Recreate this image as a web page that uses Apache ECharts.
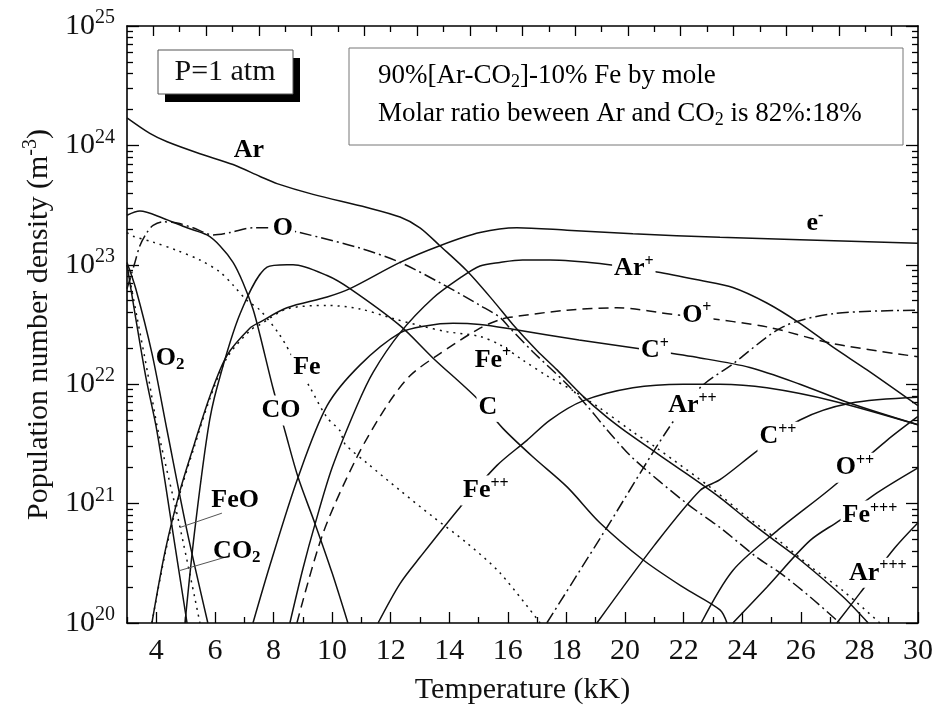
<!DOCTYPE html>
<html>
<head>
<meta charset="utf-8">
<script src="https://cdn.jsdelivr.net/npm/echarts@6/dist/echarts.min.js"></script>
<style>
  html, body { margin: 0; padding: 0; background: #fff; }
  #chart { width: 938px; height: 709px; }
</style>
</head>
<body>
<div id="chart"></div>
<script>
// Population number densities of a 90%[Ar-CO2]-10% Fe plasma at 1 atm.
// Each curve: [temperature in kK, log10 of number density in m^-3].
const arLog = [[3,24.23],[3.78,24.10],[4.37,24.03],[5.49,23.93],[6.62,23.84],[7.54,23.74],[8.12,23.68],[9.35,23.59],[11.19,23.48],[12.32,23.40],[13.0,23.31],[13.68,23.16],[14.6,22.95],[15.5,22.70],[16.17,22.50],[17.0,22.28],[17.68,22.12],[18.56,21.90],[19.4,21.72],[20.27,21.56],[21.98,21.27],[23.24,21.05],[24.2,20.86],[25.05,20.70],[25.97,20.53],[27.44,20.22],[28.3,20.0]];
const electronLog = [[3.85,20.0],[4.3,20.6],[4.8,21.1],[5.3,21.5],[5.83,21.9],[6.41,22.24],[7.2,22.47],[7.54,22.52],[8.46,22.64],[9.83,22.73],[10.61,22.80],[12.32,23.02],[13.68,23.16],[15.05,23.27],[16.31,23.31],[18.02,23.29],[20.27,23.26],[23.24,23.23],[25.97,23.21],[30,23.18]];
const coLog = [[3,23.415],[3.44,23.45],[4.23,23.39],[5.05,23.31],[5.73,23.25],[6.17,23.16],[6.62,23.02],[6.96,22.85],[7.3,22.63],[7.54,22.41],[7.98,21.97],[8.39,21.61],[8.84,21.22],[9.42,20.83],[10.0,20.42],[10.54,20.0]];
const oLog = [[3.0,22.8],[3.27,23.02],[3.44,23.16],[3.68,23.27],[3.89,23.33],[4.23,23.36],[4.71,23.35],[5.25,23.31],[5.94,23.25],[6.52,23.27],[7.3,23.31],[7.78,23.31],[8.3,23.30],[8.9,23.27],[10.95,23.14],[12.32,23.02],[13.68,22.85],[15.05,22.66],[15.73,22.56],[16.07,22.47],[16.86,22.27],[18.02,22.0],[18.7,21.82],[19.38,21.62],[20.27,21.38],[22.11,21.0],[23.24,20.8],[24.5,20.55],[25.29,20.42],[26.31,20.22],[27.33,20.0]];
const feLog = [[3.0,23.27],[3.2,23.24],[3.89,23.19],[4.71,23.12],[5.49,23.04],[6.17,22.94],[6.62,22.83],[7.1,22.70],[7.54,22.62],[8.22,22.41],[8.67,22.22],[9.25,21.97],[9.83,21.72],[10.27,21.61],[10.44,21.50],[11.19,21.34],[12.32,21.11],[13.44,20.89],[14.6,20.67],[15.73,20.42],[17.1,20.0]];
const feIonLog = [[3.85,20.0],[4.3,20.58],[4.8,21.08],[5.3,21.48],[5.83,21.88],[6.41,22.22],[7.2,22.45],[7.54,22.50],[8.46,22.63],[9.83,22.66],[10.95,22.63],[12.08,22.55],[13.0,22.49],[13.92,22.44],[15.05,22.40],[15.73,22.33],[16.52,22.20],[17.34,22.07],[18.2,21.95],[19.14,21.80],[20.27,21.60],[21.0,21.48],[23.0,21.12],[24.1,20.90],[25.25,20.69],[26.4,20.46],[27.44,20.27],[28.7,20.0]];
const cLog = [[4.98,20.0],[5.3,20.75],[5.76,21.61],[6.07,21.97],[6.86,22.59],[7.78,22.98],[8.46,23.0],[8.67,23.0],[9.83,22.91],[10.61,22.80],[12.32,22.49],[13.44,22.22],[14.95,21.88],[15.83,21.63],[16.86,21.39],[18.02,21.14],[19.14,20.84],[20.61,20.53],[21.98,20.30],[23.24,20.11],[23.48,20.0]];
const o2Log = [[3.0,23.02],[3.3,22.8],[3.85,22.26],[4.37,21.61],[5.05,20.77],[5.76,20.0]];
const feoLog = [[3.0,23.0],[3.35,22.55],[3.7,22.1],[4.06,21.61],[4.81,20.80],[5.49,20.0]];
const co2Log = [[3.0,23.0],[3.3,22.55],[3.65,22.05],[4.02,21.61],[4.54,20.80],[5.05,20.0]];
const arIonLog = [[8.56,20.0],[9.0,20.45],[9.42,20.83],[10.0,21.3],[10.85,21.82],[11.4,22.10],[12.32,22.43],[13.44,22.72],[14.37,22.89],[15.05,22.99],[15.73,23.02],[16.5,23.04],[17.44,23.04],[19.14,23.01],[21.09,22.94],[22.56,22.87],[23.68,22.81],[24.84,22.68],[25.97,22.51],[27.1,22.31],[28.26,22.12],[30,21.82]];
const cIonLog = [[7.3,20.0],[7.9,20.5],[8.84,21.22],[9.83,21.82],[10.95,22.16],[12.32,22.43],[13.24,22.49],[14.13,22.51],[15.05,22.50],[16.17,22.46],[18.43,22.37],[20.68,22.29],[22.56,22.22],[24.26,22.14],[25.97,22.0],[27.68,21.84],[30,21.66]];
const oIonLog = [[8.8,20.0],[9.69,20.75],[10.85,21.39],[11.87,21.82],[12.66,22.07],[13.58,22.24],[15.05,22.47],[15.73,22.54],[16.07,22.56],[18.02,22.62],[19.72,22.64],[21.77,22.58],[22.56,22.56],[24.84,22.48],[27.1,22.34],[30,22.23]];
const fe2Log = [[11.57,20.0],[12.32,20.33],[13.0,20.55],[14.37,20.97],[15.63,21.32],[16.65,21.53],[17.44,21.70],[18.56,21.86],[20.27,21.97],[21.98,22.0],[23.24,22.0],[24.84,21.97],[27.1,21.86],[30,21.66]];
const ar2Log = [[17.33,20.0],[19.38,20.8],[21.43,21.61],[22.56,21.97],[23.68,22.17],[25.39,22.48],[27.1,22.59],[30,22.62]];
const c2Log = [[19.04,20.0],[21.0,20.65],[22.56,21.11],[23.24,21.2],[24.5,21.44],[25.97,21.70],[27.68,21.84],[30,21.89]];
const o2IonLog = [[22.6,20.0],[23.68,20.44],[25.18,20.77],[26.99,21.12],[28.94,21.53],[30,21.73]];
const fe3Log = [[23.68,20.0],[24.84,20.30],[26.31,20.69],[27.33,20.86],[28.6,21.09],[30,21.3]];
const ar3Log = [[27.23,20.0],[28.02,20.25],[29.21,20.63],[30,20.84]];

// Axis ticks
const xMajorTicks = [4, 6, 8, 10, 12, 14, 16, 18, 20, 22, 24, 26, 28, 30];
const xMinorTicks = [3, 5, 7, 9, 11, 13, 15, 17, 19, 21, 23, 25, 27, 29];
const topLongTicks = [1, 3, 5, 7, 9, 11, 13, 15, 17, 19, 21, 23, 25, 27, 29];
const topShortTicks = [2, 4, 6, 8, 10, 12, 14, 16, 18, 20, 22, 24, 26, 28];
const decadeExponents = [20, 21, 22, 23, 24, 25];
const minorMultipliers = [2, 3, 4, 5, 6, 7, 8, 9];

const SERIF = '"Liberation Serif", "Times New Roman", serif';
const INK = '#111';

const DASH = {
  solid: 'solid',
  dotted: [2, 5],
  dashed: [10, 6],
  dashdot: [12, 4, 2, 4]
};

const curves = [
  { name: 'Ar', data: arLog, dash: 'solid' },
  { name: 'e-', data: electronLog, dash: 'solid' },
  { name: 'CO', data: coLog, dash: 'solid' },
  { name: 'O', data: oLog, dash: 'dashdot' },
  { name: 'Fe', data: feLog, dash: 'dotted' },
  { name: 'Fe+', data: feIonLog, dash: 'dotted' },
  { name: 'C', data: cLog, dash: 'solid' },
  { name: 'O2', data: o2Log, dash: 'solid' },
  { name: 'FeO', data: feoLog, dash: 'dotted' },
  { name: 'CO2', data: co2Log, dash: 'solid' },
  { name: 'Ar+', data: arIonLog, dash: 'solid' },
  { name: 'C+', data: cIonLog, dash: 'solid' },
  { name: 'O+', data: oIonLog, dash: 'dashed' },
  { name: 'Fe++', data: fe2Log, dash: 'solid' },
  { name: 'Ar++', data: ar2Log, dash: 'dashdot' },
  { name: 'C++', data: c2Log, dash: 'solid' },
  { name: 'O++', data: o2IonLog, dash: 'solid' },
  { name: 'Fe+++', data: fe3Log, dash: 'solid' },
  { name: 'Ar+++', data: ar3Log, dash: 'solid' }
];

// Species annotations, placed in data space (kK, log10 n); knock = label cuts through its curve
const speciesLabels = [
  { text: 'Ar', sup: '', sub: '', at: [7.16, 23.96], knock: false },
  { text: 'O', sup: '', sub: '', at: [8.32, 23.31], knock: true },
  { text: 'e', sup: '-', sub: '', at: [26.48, 23.35], knock: false },
  { text: 'Ar', sup: '+', sub: '', at: [20.3, 22.97], knock: true },
  { text: 'O', sup: '+', sub: '', at: [22.45, 22.58], knock: true },
  { text: 'C', sup: '+', sub: '', at: [21.02, 22.28], knock: true },
  { text: 'Fe', sup: '+', sub: '', at: [15.49, 22.20], knock: false },
  { text: 'C', sup: '', sub: '', at: [15.32, 21.81], knock: true },
  { text: 'Ar', sup: '++', sub: '', at: [22.3, 21.82], knock: true },
  { text: 'Fe', sup: '++', sub: '', at: [15.25, 21.11], knock: true },
  { text: 'C', sup: '++', sub: '', at: [25.22, 21.56], knock: true },
  { text: 'O', sup: '++', sub: '', at: [27.85, 21.30], knock: true },
  { text: 'Fe', sup: '+++', sub: '', at: [28.36, 20.90], knock: true },
  { text: 'Ar', sup: '+++', sub: '', at: [28.63, 20.42], knock: true },
  { text: 'Fe', sup: '', sub: '', at: [9.14, 22.14], knock: true },
  { text: 'CO', sup: '', sub: '', at: [8.26, 21.78], knock: true },
  { text: 'O', sup: '', sub: '2', at: [4.47, 22.22], knock: false },
  { text: 'FeO', sup: '', sub: '', at: [6.69, 21.03], knock: false },
  { text: 'CO', sup: '', sub: '2', at: [6.75, 20.60], knock: false }
];
// Leader lines from the FeO and CO2 labels to their curves
const leaders = [
  [[4.81, 20.80], [6.24, 20.92]],
  [[4.81, 20.44], [6.34, 20.55]]
];

const chart = echarts.init(document.getElementById('chart'), null, { renderer: 'canvas' });

const tickFont = { fontFamily: SERIF, fontSize: 30, color: '#111' };
const frameLine = { show: true, onZero: false, lineStyle: { color: '#000', width: 1.6 } };
const noLine = { show: false, onZero: false };
const tickStyle = { color: '#000', width: 1.3 };

const yMinor = [];
decadeExponents.slice(0, -1).forEach(e => minorMultipliers.forEach(m => yMinor.push(e + Math.log10(m))));

const option = {
  animation: false,
  backgroundColor: '#fff',
  grid: { left: 127, right: 20, top: 26, bottom: 86, containLabel: false, outerBoundsMode: 'none' },
  xAxis: [
    {
      type: 'value', min: 3, max: 30, position: 'bottom',
      axisLine: frameLine,
      axisTick: { inside: true, length: 11, customValues: xMajorTicks, lineStyle: tickStyle },
      axisLabel: { customValues: xMajorTicks, margin: 13, ...tickFont },
      splitLine: { show: false },
      name: 'Temperature (kK)', nameLocation: 'middle', nameGap: 52,
      nameTextStyle: { fontFamily: SERIF, fontSize: 30, color: '#111' }
    },
    {
      type: 'value', min: 3, max: 30, position: 'bottom',
      axisLine: noLine,
      axisTick: { inside: true, length: 6, customValues: xMinorTicks, lineStyle: tickStyle },
      axisLabel: { show: false }, splitLine: { show: false }
    },
    {
      type: 'value', min: 0, max: 30, position: 'top',
      axisLine: frameLine,
      axisTick: { inside: true, length: 10, customValues: topLongTicks, lineStyle: tickStyle },
      axisLabel: { show: false }, splitLine: { show: false }
    },
    {
      type: 'value', min: 0, max: 30, position: 'top',
      axisLine: noLine,
      axisTick: { inside: true, length: 6, customValues: topShortTicks, lineStyle: tickStyle },
      axisLabel: { show: false }, splitLine: { show: false }
    }
  ],
  yAxis: [
    { type: 'log', logBase: 10, min: 1e20, max: 1e25, show: false, splitLine: { show: false } },
    {
      type: 'value', min: 20, max: 25, interval: 1, position: 'left',
      axisLine: frameLine,
      axisTick: { inside: true, length: 12, lineStyle: tickStyle },
      axisLabel: {
        margin: 12,
        formatter: v => '{b|10}{s|' + v + '}',
        rich: {
          b: { fontFamily: SERIF, fontSize: 30, color: '#111', lineHeight: 36 },
          s: { fontFamily: SERIF, fontSize: 20, color: '#111', lineHeight: 18, verticalAlign: 'top' }
        }
      },
      splitLine: { show: false },
      name: '{t|Population number density (m}{s|-3}{t|)}',
      nameLocation: 'middle', nameGap: 66, nameRotate: 90,
      nameTextStyle: {
        rich: {
          t: { fontFamily: SERIF, fontSize: 30, color: '#111', lineHeight: 36 },
          s: { fontFamily: SERIF, fontSize: 20, color: '#111', lineHeight: 20, verticalAlign: 'top' }
        }
      }
    },
    {
      type: 'value', min: 20, max: 25, position: 'left',
      axisLine: noLine,
      axisTick: { inside: true, length: 6, customValues: yMinor, lineStyle: tickStyle },
      axisLabel: { show: false }, splitLine: { show: false }
    },
    {
      type: 'value', min: 20, max: 25, interval: 1, position: 'right',
      axisLine: frameLine,
      axisTick: { inside: true, length: 12, lineStyle: tickStyle },
      axisLabel: { show: false }, splitLine: { show: false }
    },
    {
      type: 'value', min: 20, max: 25, position: 'right',
      axisLine: noLine,
      axisTick: { inside: true, length: 6, customValues: yMinor, lineStyle: tickStyle },
      axisLabel: { show: false }, splitLine: { show: false }
    }
  ],
  series: curves.map(c => ({
    type: 'line',
    name: c.name,
    xAxisIndex: 0,
    yAxisIndex: 0,
    data: c.data.map(([t, lg]) => [t, Math.pow(10, lg)]),
    showSymbol: false,
    symbol: 'none',
    smooth: 0.3,
    clip: true,
    silent: true,
    lineStyle: { color: INK, width: 1.5, type: DASH[c.dash] }
  }))
};

chart.setOption(option);

const toPx = (t, lg) => chart.convertToPixel({ xAxisIndex: 0, yAxisIndex: 0 }, [t, Math.pow(10, lg)]);

const labelRich = {
  b: { fontFamily: SERIF, fontWeight: 'bold', fontSize: 26, color: '#111', lineHeight: 30 },
  p: { fontFamily: SERIF, fontWeight: 'bold', fontSize: 16, color: '#111', lineHeight: 14, verticalAlign: 'top' },
  d: { fontFamily: SERIF, fontWeight: 'bold', fontSize: 17, color: '#111', lineHeight: 14, verticalAlign: 'bottom' }
};

const graphics = [];

speciesLabels.forEach(l => {
  const [px, py] = toPx(l.at[0], l.at[1]);
  let txt = '{b|' + l.text + '}';
  if (l.sup) txt += '{p|' + l.sup + '}';
  if (l.sub) txt += '{d|' + l.sub + '}';
  const style = { text: txt, rich: labelRich, textAlign: 'center', textVerticalAlign: 'middle' };
  if (l.knock) { style.backgroundColor = '#fff'; style.padding = [0, 2]; }
  graphics.push({ type: 'text', x: px, y: py, z: 100, style });
});

leaders.forEach(([a, b]) => {
  const p1 = toPx(a[0], a[1]);
  const p2 = toPx(b[0], b[1]);
  graphics.push({
    type: 'line', z: 90,
    shape: { x1: p1[0], y1: p1[1], x2: p2[0], y2: p2[1] },
    style: { stroke: '#555', lineWidth: 1 }
  });
});

// Pressure badge with drop shadow
graphics.push(
  { type: 'rect', z: 100, shape: { x: 165, y: 58, width: 135, height: 44 }, style: { fill: '#000' } },
  { type: 'rect', z: 101, shape: { x: 158, y: 50, width: 135, height: 44 }, style: { fill: '#fff', stroke: '#555', lineWidth: 1 } },
  {
    type: 'text', z: 102, x: 225, y: 72,
    style: { text: 'P=1 atm', font: '30px ' + SERIF, fill: '#111', textAlign: 'center', textVerticalAlign: 'middle' }
  }
);

// Mixture description box
const boxRich = {
  t: { fontFamily: SERIF, fontSize: 27, color: '#111', lineHeight: 30 },
  s: { fontFamily: SERIF, fontSize: 18, color: '#111', lineHeight: 14, verticalAlign: 'bottom' }
};
graphics.push(
  { type: 'rect', z: 100, shape: { x: 349, y: 48, width: 554, height: 97 }, style: { fill: '#fff', stroke: '#777', lineWidth: 1 } },
  {
    type: 'text', z: 101, x: 378, y: 76,
    style: { text: '{t|90%[Ar-CO}{s|2}{t|]-10% Fe by mole}', rich: boxRich, textAlign: 'left', textVerticalAlign: 'middle' }
  },
  {
    type: 'text', z: 101, x: 378, y: 114,
    style: { text: '{t|Molar ratio beween Ar and CO}{s|2}{t| is 82%:18%}', rich: boxRich, textAlign: 'left', textVerticalAlign: 'middle' }
  }
);

chart.setOption({ graphic: graphics });
</script>
</body>
</html>
